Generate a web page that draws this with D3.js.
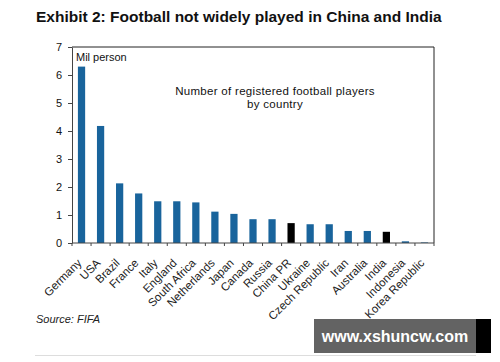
<!DOCTYPE html>
<html>
<head>
<meta charset="utf-8">
<script src="https://d3js.org/d3.v7.min.js"></script>
<style>
  body { margin: 0; background: #fff; }
  svg { font-family: "Liberation Sans", Arial, sans-serif; }
</style>
</head>
<body>
<svg width="500" height="362"></svg>
<script>
var countries = ["Germany", "USA", "Brazil", "France", "Italy", "England", "South Africa",
  "Netherlands", "Japan", "Canada", "Russia", "China PR", "Ukraine", "Czech Republic",
  "Iran", "Australia", "India", "Indonesia", "Korea Republic"];
var players = [6.3, 4.18, 2.13, 1.77, 1.49, 1.49, 1.45, 1.12, 1.04, 0.85, 0.85, 0.71,
  0.67, 0.67, 0.43, 0.43, 0.40, 0.06, 0.02];
var highlighted = ["China PR", "India"];
var yTicks = [0, 1, 2, 3, 4, 5, 6, 7];

var svg = d3.select("svg");
var plotL = 72, plotR = 434, plotT = 47, plotB = 243;

var x = d3.scaleBand().domain(countries).range([plotL, plotR]).paddingInner(0.62).paddingOuter(0.31);
var y = d3.scaleLinear().domain([0, 7]).range([plotB, plotT]);

// title
svg.append("text")
  .attr("x", 36).attr("y", 22)
  .attr("font-size", 15.5).attr("font-weight", "bold")
  .attr("fill", "#111")
  .text("Exhibit 2: Football not widely played in China and India");

// frame (top + right)
svg.append("path")
  .attr("d", "M" + plotL + "," + plotT + "H" + plotR + "V" + plotB)
  .attr("fill", "none").attr("stroke", "#222").attr("stroke-width", 1);

// bars
svg.selectAll("rect.bar")
  .data(countries)
  .enter()
  .append("rect")
  .attr("class", "bar")
  .attr("x", function(d) { return x(d); })
  .attr("width", x.bandwidth())
  .attr("y", function(d, i) { return y(players[i]); })
  .attr("height", function(d, i) { return plotB - y(players[i]); })
  .attr("fill", function(d) { return highlighted.indexOf(d) >= 0 ? "#000" : "#19649c"; });

// y axis
var yAxis = svg.append("g")
  .attr("transform", "translate(" + plotL + ",0)")
  .call(d3.axisLeft(y).tickValues(yTicks).tickFormat(d3.format("d"))
    .tickSize(4).tickSizeOuter(0).tickPadding(6));
yAxis.selectAll("text").attr("font-size", 11).attr("fill", "#111");
yAxis.selectAll("line, path").attr("stroke", "#444");

// x axis with ticks between bars
var xAxis = svg.append("g")
  .attr("transform", "translate(0," + plotB + ")");
xAxis.append("line")
  .attr("x1", plotL).attr("x2", plotR)
  .attr("stroke", "#444");
xAxis.selectAll("line.tick")
  .data(d3.range(countries.length + 1))
  .enter()
  .append("line")
  .attr("class", "tick")
  .attr("x1", function(i) { return plotL + i * (plotR - plotL) / countries.length; })
  .attr("x2", function(i) { return plotL + i * (plotR - plotL) / countries.length; })
  .attr("y1", 0).attr("y2", 3)
  .attr("stroke", "#444");
xAxis.selectAll("text")
  .data(countries)
  .enter()
  .append("text")
  .attr("transform", function(d) {
    return "translate(" + (x(d) + x.bandwidth() / 2 - 5) + ",15) rotate(-45)";
  })
  .attr("text-anchor", "end")
  .attr("dy", "0.7em")
  .attr("font-size", 11.5)
  .attr("fill", "#222")
  .text(function(d) { return d; });

// annotations
svg.append("text")
  .attr("x", 76).attr("y", 61)
  .attr("font-size", 11).attr("fill", "#111")
  .text("Mil person");
svg.append("text")
  .attr("x", 275).attr("y", 95)
  .attr("text-anchor", "middle")
  .attr("font-size", 11.5).attr("letter-spacing", 0.3).attr("fill", "#111")
  .text("Number of registered football players");
svg.append("text")
  .attr("x", 275).attr("y", 108)
  .attr("text-anchor", "middle")
  .attr("font-size", 11.5).attr("letter-spacing", 0.3).attr("fill", "#111")
  .text("by country");

// source
svg.append("text")
  .attr("x", 36).attr("y", 323)
  .attr("font-size", 11).attr("font-style", "italic")
  .attr("fill", "#222")
  .text("Source: FIFA");
svg.append("line")
  .attr("x1", 35).attr("x2", 476).attr("y1", 355.5).attr("y2", 355.5)
  .attr("stroke", "#ddd");

// watermark
svg.append("rect")
  .attr("x", 314).attr("y", 319).attr("width", 162).attr("height", 34)
  .attr("fill", "#636363");
svg.append("rect")
  .attr("x", 476).attr("y", 319).attr("width", 15).attr("height", 34)
  .attr("fill", "#000");
svg.append("text")
  .attr("x", 395).attr("y", 342)
  .attr("text-anchor", "middle")
  .attr("font-size", 16).attr("font-weight", "bold")
  .attr("fill", "#fff")
  .text("www.xshuncw.com");
</script>
</body>
</html>
